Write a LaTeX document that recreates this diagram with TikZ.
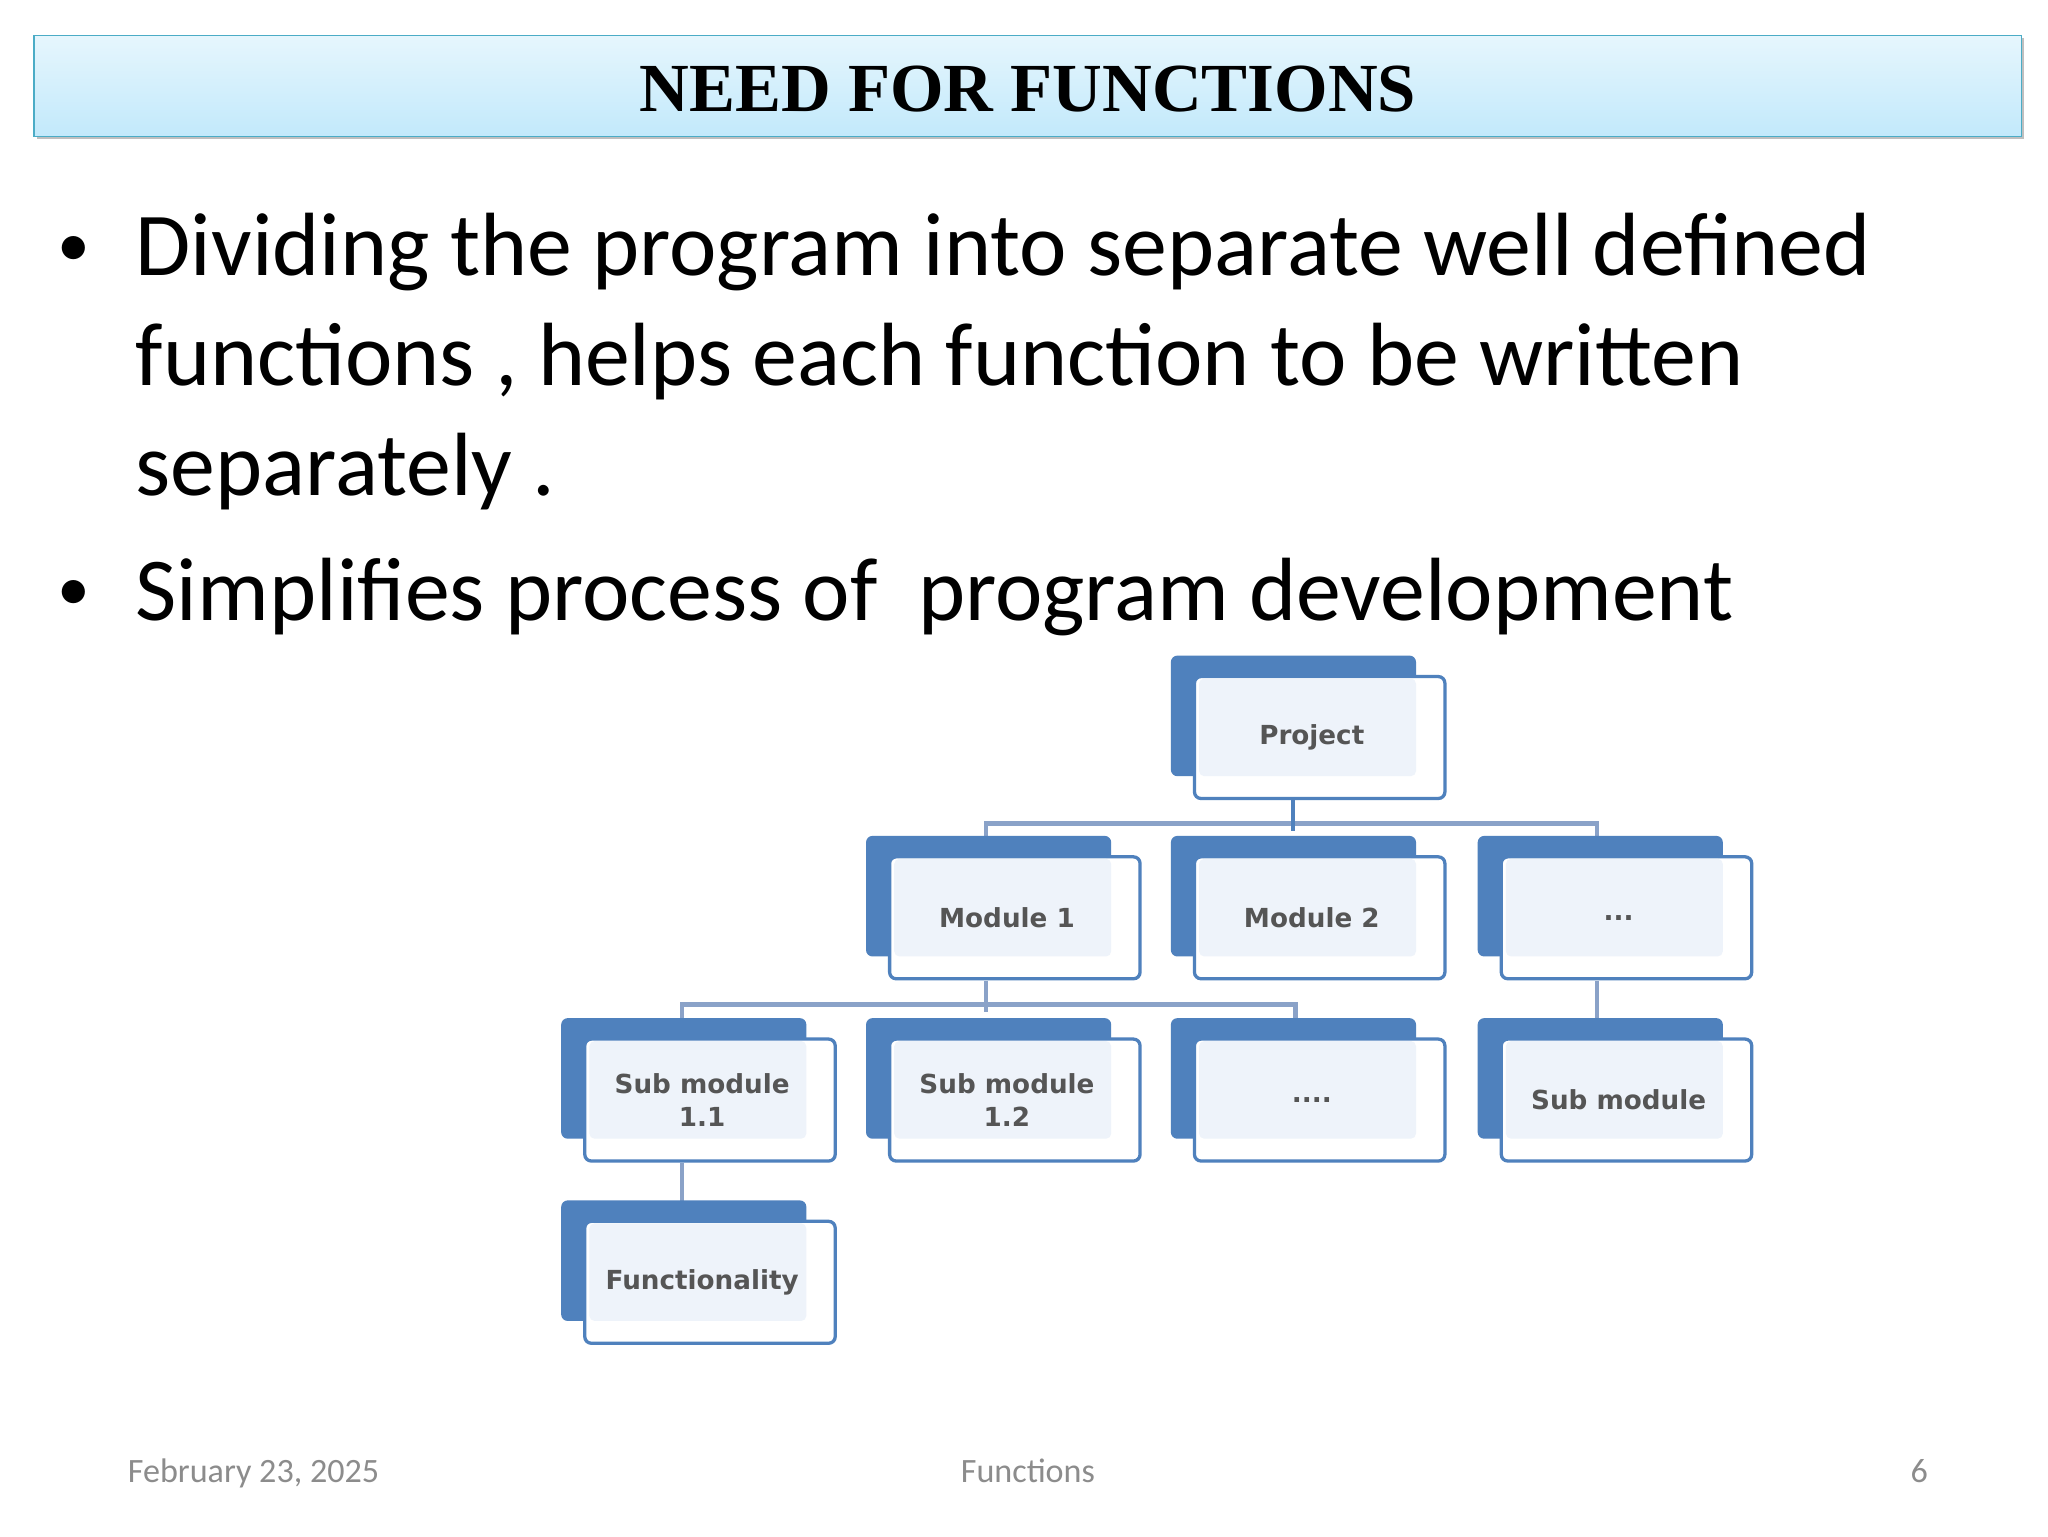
\documentclass[tikz,border=0pt]{standalone}
\usepackage{fontspec}
\setmainfont{Carlito}
\newfontfamily\titlefont{Liberation Serif}
\newfontfamily\boxfont{DejaVu Sans}
\definecolor{bblue}{HTML}{4F81BD}
\definecolor{linec}{HTML}{8AA2C8}
\definecolor{innerfill}{HTML}{EEF3FA}
\definecolor{boxtext}{HTML}{555555}
\definecolor{titletop}{HTML}{E6F6FD}
\definecolor{titlebot}{HTML}{C2E9FB}
\definecolor{titleborder}{HTML}{4BACC6}
\definecolor{foot}{HTML}{8C8C8C}
\tikzset{
 front/.style={draw=bblue, line width=2.5pt, fill=white, rounded corners=5pt, minimum width=191pt, minimum height=93pt, inner sep=0pt},
 conn/.style={draw=linec, line width=3.5pt},
 boxlabel/.style={font=\boxfont\bfseries\fontsize{20}{25}\selectfont, text=boxtext, align=center},
 bodytext/.style={anchor=base west, font=\fontsize{68.5}{84}\selectfont, text=black},
 foottext/.style={font=\fontsize{26}{30}\selectfont, text=foot},
}
\newcommand\obox[4]{%
 \fill[bblue, rounded corners=5pt] (#2-113.5,#3-62.5) rectangle (#2+73.5,#3+29.5);
 \node[front] (#1) at (#2,#3) {};
 \fill[innerfill, rounded corners=4pt] (#2-92,#3-45) rectangle (#2+73.5,#3+29.5);
 \node[boxlabel] (#1t) at (#2-6,#3) {#4};
}
\begin{document}
\begin{tikzpicture}[x=1pt,y=-1pt]
\useasboundingbox (0,0) rectangle (1562,1172);
\fill[white] (0,0) rectangle (1562,1172);
% title
\fill[black!25] (28,29) rectangle (1544,106);
\shade[top color=titletop, bottom color=titlebot, draw=titleborder, line width=1pt] (26,27) rectangle (1542,104);
\node[font=\titlefont\bfseries\fontsize{52.5}{60}\selectfont] (title) at (784,68) {NEED FOR FUNCTIONS};
% bullets
\node[bodytext, font=\fontsize{50}{84}\selectfont] (b1) at (40,203) {•};
\node[bodytext] (l1) at (100,210) {Dividing the program into separate well defined};
\node[bodytext] (l2) at (100,294) {functions , helps each function to be written};
\node[bodytext] (l3) at (100,378) {separately .};
\node[bodytext, font=\fontsize{50}{84}\selectfont] (b2) at (40,466) {•};
\node[bodytext] (l4) at (100,473) {Simplifies process of\ \ program development};
% connectors (drawn first)
\draw[conn] (752,652) -- (752,628) -- (1218,628) -- (1218,652);
\draw[draw=bblue, line width=3pt] (986,610) -- (986,634);
\draw[conn] (520,791) -- (520,766) -- (988,766) -- (988,791);
\draw[conn] (752,748) -- (752,772);
\draw[conn] (1218,748) -- (1218,791);
\draw[conn] (520,887) -- (520,930);
% boxes
\obox{p}{1006.5}{562.5}{Project}
\obox{m1}{774}{700}{Module 1}
\obox{m2}{1006.5}{700}{Module 2}
\obox{m3}{1240.5}{700}{...}
\obox{s11}{541.5}{839}{Sub module\\1.1}
\obox{s12}{774}{839}{Sub module\\1.2}
\obox{s13}{1006.5}{839}{....}
\obox{s2}{1240.5}{839}{Sub module}
\obox{f}{541.5}{978}{Functionality}
% footer
\node[anchor=base west, foottext] (date) at (94,1131) {February 23, 2025};
\node[anchor=base, foottext] (ft) at (784,1131) {Functions};
\node[anchor=base east, foottext] (pg) at (1474,1131) {6};
\end{tikzpicture}
\end{document}
